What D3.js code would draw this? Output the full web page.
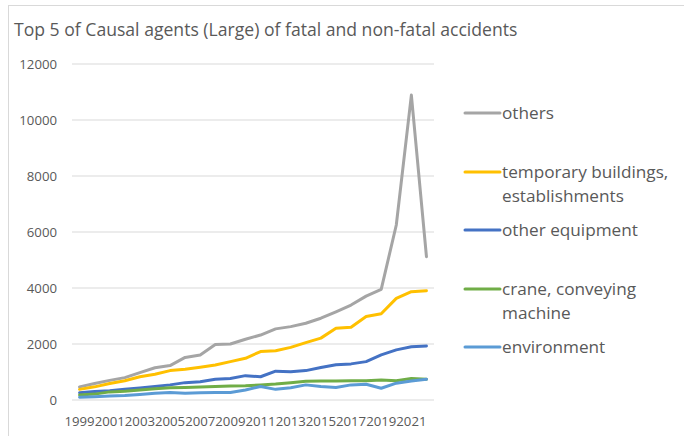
<!DOCTYPE html>
<html>
<head>
<meta charset="utf-8">
<script src="https://cdn.jsdelivr.net/npm/d3@7"></script>
<style>
  body { margin: 0; background: #fff; }
  text { font-family: "Open Sans", "Liberation Sans", sans-serif; fill: #595959; }
</style>
</head>
<body>
<div id="chart"></div>
<script>
// categories and series
const years = ["1999","2000","2001","2002","2003","2004","2005","2006","2007","2008","2009","2010",
               "2011","2012","2013","2014","2015","2016","2017","2018","2019","2020","2021","2022"];
const others = [470, 590, 700, 800, 980, 1150, 1230, 1520, 1610, 1980, 2000, 2170,
                2320, 2540, 2620, 2740, 2920, 3150, 3390, 3710, 3950, 6250, 10890, 5120];
const tempBuildings = [380, 470, 590, 690, 830, 920, 1050, 1100, 1170, 1250, 1370, 1490,
                       1730, 1760, 1880, 2050, 2210, 2560, 2600, 2980, 3080, 3630, 3870, 3900];
const otherEquipment = [260, 300, 330, 380, 430, 480, 540, 620, 650, 740, 770, 870,
                        830, 1030, 1010, 1050, 1160, 1260, 1290, 1370, 1610, 1790, 1900, 1930];
const crane = [180, 210, 290, 310, 360, 400, 440, 450, 460, 480, 500, 510,
               540, 570, 620, 670, 680, 680, 690, 690, 710, 690, 770, 740];
const environment = [100, 120, 140, 160, 200, 240, 270, 240, 260, 270, 270, 360,
                     480, 380, 440, 540, 480, 450, 540, 560, 420, 600, 680, 740];
const yTicks = [0, 2000, 4000, 6000, 8000, 10000, 12000];
const xTickLabels = ["1999","2001","2003","2005","2007","2009","2011","2013","2015","2017","2019","2021"];

const series = [
  { name: ["others"], values: others, color: "#A5A5A5" },
  { name: ["temporary buildings,", "establishments"], values: tempBuildings, color: "#FFC000" },
  { name: ["other equipment"], values: otherEquipment, color: "#4472C4" },
  { name: ["crane, conveying", "machine"], values: crane, color: "#70AD47" },
  { name: ["environment"], values: environment, color: "#5B9BD5" }
];

const W = 684, H = 436;
const margin = { top: 64, right: 250, bottom: 36, left: 72 };
const width = W - margin.left - margin.right,
      height = H - margin.top - margin.bottom;

const svg = d3.select("#chart")
  .append("svg")
  .attr("width", W)
  .attr("height", H);

// chart area border
svg.append("rect")
  .attr("x", 8.5).attr("y", 5.5)
  .attr("width", 720).attr("height", 500)
  .attr("fill", "none")
  .attr("stroke", "#d9d9d9");

svg.append("text")
  .attr("x", 14)
  .attr("y", 36)
  .attr("font-size", 17.6)
  .text("Top 5 of Causal agents (Large) of fatal and non-fatal accidents");

const g = svg.append("g")
  .attr("transform", `translate(${margin.left},${margin.top})`);

const x = d3.scaleBand().domain(years).range([0, width]);
const y = d3.scaleLinear().domain([0, 12000]).range([height, 0]);

// gridlines
g.selectAll(".grid")
  .data(yTicks)
  .enter()
  .append("line")
  .attr("x1", 0).attr("x2", width)
  .attr("y1", d => y(d)).attr("y2", d => y(d))
  .attr("stroke", "#d9d9d9")
  .attr("stroke-width", 1);

// y axis labels
const yAxis = d3.axisLeft(y).tickValues(yTicks).tickFormat(d3.format("d")).tickSize(0).tickPadding(15);
g.append("g").call(yAxis)
  .call(a => a.select(".domain").remove())
  .selectAll("text")
  .attr("font-size", 13.2)
  .attr("fill", "#595959");

// x axis labels, every other year
const xAxis = d3.axisBottom(x).tickValues(xTickLabels).tickSize(0).tickPadding(17);
g.append("g")
  .attr("transform", `translate(0,${height})`)
  .call(xAxis)
  .call(a => a.select(".domain").remove())
  .selectAll("text")
  .attr("font-size", 13.2)
  .attr("fill", "#595959");

const line = d3.line()
  .x((d, i) => x(years[i]) + x.bandwidth() / 2)
  .y(d => y(d));

g.selectAll(".serie")
  .data(series)
  .enter()
  .append("path")
  .attr("d", d => line(d.values))
  .attr("fill", "none")
  .attr("stroke", d => d.color)
  .attr("stroke-width", 3)
  .attr("stroke-linejoin", "round")
  .attr("stroke-linecap", "round");

// legend
const legendY = [113, 172, 230, 289, 347];
const legend = svg.selectAll(".legend")
  .data(series)
  .enter()
  .append("g")
  .attr("transform", (d, i) => `translate(465,${legendY[i]})`);

legend.append("line")
  .attr("x1", 0).attr("x2", 35)
  .attr("stroke", d => d.color)
  .attr("stroke-width", 3)
  .attr("stroke-linecap", "round");

legend.append("text")
  .attr("font-size", 17.2)
  .selectAll("tspan")
  .data(d => d.name)
  .enter()
  .append("tspan")
  .attr("x", 37)
  .attr("y", (d, i) => i * 23.5)
  .attr("dy", "0.35em")
  .text(d => d);
</script>
</body>
</html>
